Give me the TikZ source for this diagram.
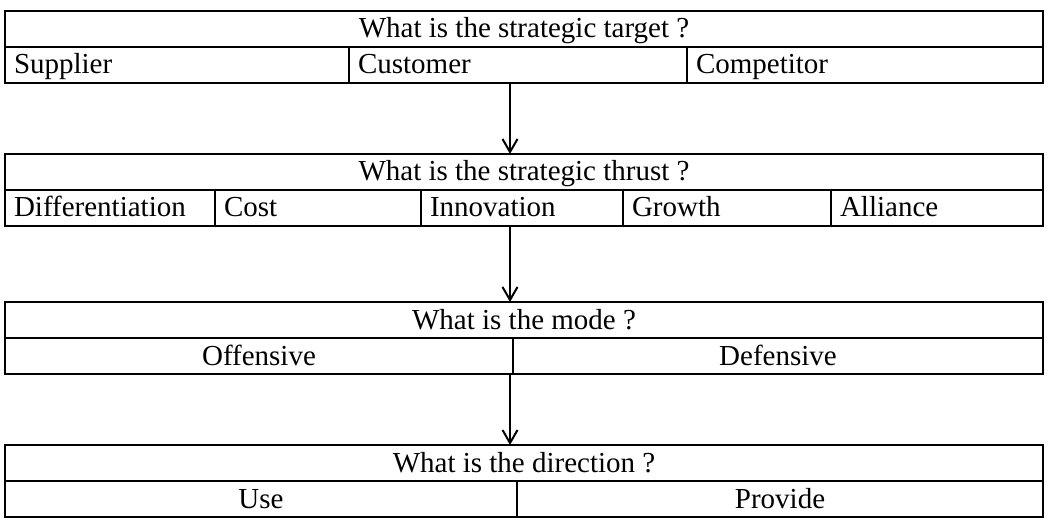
\documentclass[tikz,border=0pt]{standalone}
\usepackage{fontspec}
\setmainfont{Liberation Serif}
\usetikzlibrary{arrows.meta}

\tikzset{
  qtitle/.style={draw, line width=1.1pt, outer sep=0pt, anchor=north west,
    minimum width=519pt, minimum height=18pt, inner sep=0pt,
    text height=11pt, text depth=2pt},
  cell/.style={draw, line width=1.1pt, outer sep=0pt, anchor=north west,
    minimum height=18pt, inner xsep=4.5pt, inner ysep=0pt, text width=#1, align=left,
    text height=11pt, text depth=2pt},
  ccell/.style={draw, line width=1.1pt, outer sep=0pt, anchor=north west,
    minimum height=18pt, inner sep=0pt, minimum width=#1,
    text height=11pt, text depth=2pt},
}

\begin{document}
\begin{tikzpicture}[x=0.5pt, y=-0.5pt, font=\fontsize{14.5}{17}\selectfont,
    >={Straight Barb[length=6.5pt,width=7.5pt]}]
        \useasboundingbox (0,0) rectangle (1052,528);

        % Strategic target
        \node[qtitle] (target) at (5,11) {What is the strategic target ?};
        \node[cell=163pt] (supplier) at (target.south west) {Supplier};
        \node[cell=160pt] (customer) at (supplier.north east) {Customer};
        \node[cell=169pt] (competitor) at (customer.north east) {Competitor};

        % Strategic thrust
        \node[qtitle] (thrust) at (5,154) {What is the strategic thrust ?};
        \node[cell=96pt] (differentiation) at (thrust.south west) {Differentiation};
        \node[cell=94pt] (cost) at (differentiation.north east) {Cost};
        \node[cell=92pt] (innovation) at (cost.north east) {Innovation};
        \node[cell=95pt] (growth) at (innovation.north east) {Growth};
        \node[cell=97pt] (alliance) at (growth.north east) {Alliance};

        % Mode
        \node[qtitle] (mode) at (5,302) {What is the mode ?};
        \node[ccell=254pt] (offensive) at (mode.south west) {Offensive};
        \node[ccell=265pt] (defensive) at (offensive.north east) {Defensive};

        % Direction
        \node[qtitle] (direction) at (5,445) {What is the direction ?};
        \node[ccell=256pt] (use) at (direction.south west) {Use};
        \node[ccell=263pt] (provide) at (use.north east) {Provide};

        % Arrows between the questions
        \coordinate (spine) at (510,0);
        \draw[->, line width=1pt] (spine |- customer.south) -- (spine |- thrust.north);
        \draw[->, line width=1pt] (spine |- cost.south) -- (spine |- mode.north);
        \draw[->, line width=1pt] (spine |- offensive.south) -- (spine |- direction.north);
    \end{tikzpicture}
\end{document}
